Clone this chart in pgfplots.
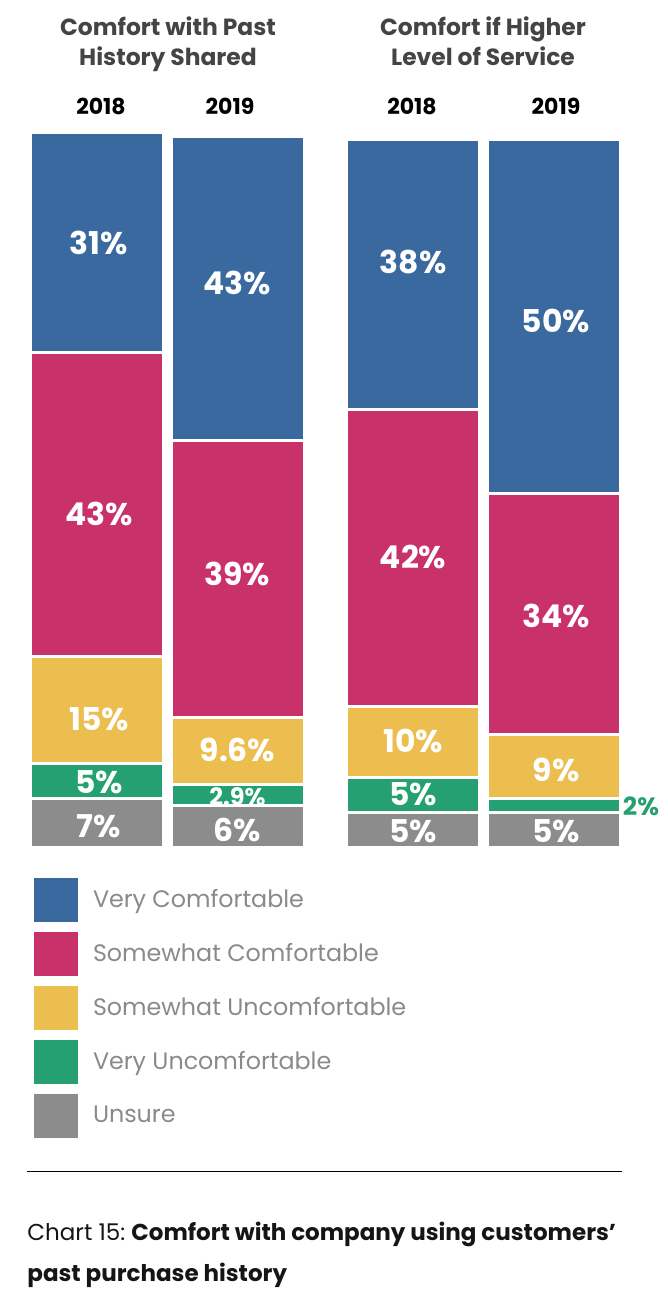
\documentclass[border=0pt]{standalone}
\usepackage{fontspec}
\setmainfont{Poppins}
\usepackage{pgfplots}
\pgfplotsset{compat=1.18}
\usepackage{pgfplotstable}
\definecolor{vcomf}{HTML}{3A69A0}
\definecolor{scomf}{HTML}{C9316B}
\definecolor{sunc}{HTML}{ECBE50}
\definecolor{vunc}{HTML}{25A073}
\definecolor{unsure}{HTML}{8C8C8C}
\definecolor{titlegray}{HTML}{444444}
\definecolor{leggray}{HTML}{8A8A8A}
\definecolor{capblack}{HTML}{151515}

\pgfplotstableread{
x unsure vunc sunc scomf vcomf
97 7 5 15 43 31
237.5 6 2.9 9.6 39 43
413 5 5 10 42 38
554 5 2 9 34 50
}\datatable

\pgfplotsset{frame/.style={at={(0,0)}, anchor=south west,
  scale only axis, width=334pt, height=646pt,
  xmin=0, xmax=668, ymin=-62.712, ymax=119.774,
  hide axis, clip=false}}

% label at x (axis units) and reference pixel row
\newcommand\lab[3]{\node[text=white, font=\bfseries\fontsize{15.7pt}{18pt}\selectfont] at (axis cs:#1,{(848-#2)/7.08}) {#3};}
\newcommand\yr[2]{\node[anchor=base, text=black, font=\bfseries\fontsize{11pt}{13pt}\selectfont] at (axis cs:#1,{(848-115)/7.08}) {#2};}
\newcommand\ttl[3]{\node[anchor=base, text=titlegray, font=\bfseries\fontsize{11.7pt}{14pt}\selectfont] at (axis cs:#1,{(848-#2)/7.08}) {#3};}

\begin{document}
\begin{tikzpicture}
\useasboundingbox (0,0) rectangle (334pt,646pt);
\begin{axis}[
  frame,
  ybar stacked, bar width=133,
  mybar/.style={fill=#1, draw=white, line width=1.5pt,
    legend image code/.code={\path[##1, draw=none] (0pt,-11pt) rectangle (22pt,11pt);}},
  reverse legend,
  legend style={at={(0.0509,0.3204)}, anchor=north west, draw=none, fill=none,
    inner sep=0pt, outer sep=0pt, row sep=5pt, column sep=7.5pt,
    font=\fontsize{11.9pt}{14pt}\selectfont, text=leggray,
    nodes={inner sep=0pt}},
  legend cell align=left,
]
\addplot[mybar=unsure] table[x=x, y=unsure] {\datatable};
\addlegendentry{Unsure}
\addplot[mybar=vunc] table[x=x, y=vunc] {\datatable};
\addlegendentry{Very Uncomfortable}
\addplot[mybar=sunc] table[x=x, y=sunc] {\datatable};
\addlegendentry{Somewhat Uncomfortable}
\addplot[mybar=scomf] table[x=x, y=scomf] {\datatable};
\addlegendentry{Somewhat Comfortable}
\addplot[mybar=vcomf] table[x=x, y=vcomf] {\datatable};
\addlegendentry{Very Comfortable}
\end{axis}
\begin{axis}[frame]
% bar labels
\lab{99}{243}{31\%}
\lab{99}{514}{43\%}
\lab{99}{719}{15\%}
\lab{99}{782}{5\%}
\lab{99}{826}{7\%}
\lab{237.5}{283}{43\%}
\lab{237.5}{574}{39\%}
\lab{237.5}{750}{9.6\%}
\node[text=white, font=\bfseries\fontsize{12pt}{14pt}\selectfont] at (axis cs:237.5,{(848-797)/7.08}) {2.9\%};
\lab{237.5}{830}{6\%}
\lab{413}{262}{38\%}
\lab{413}{557}{42\%}
\lab{413}{741}{10\%}
\lab{413}{794}{5\%}
\lab{413}{831}{5\%}
\lab{556}{321}{50\%}
\lab{556}{616}{34\%}
\lab{556}{770}{9\%}
\lab{556}{831}{5\%}
\node[text=vunc, font=\bfseries\fontsize{12.5pt}{14pt}\selectfont] at (axis cs:641,{(848-806)/7.08}) {2\%};
% titles
\ttl{168}{36}{Comfort with Past}
\ttl{168}{66}{History Shared}
\ttl{483}{36}{Comfort if Higher}
\ttl{483}{66}{Level of Service}
% years
\yr{101}{2018}
\yr{230}{2019}
\yr{412}{2018}
\yr{556}{2019}
% rule
\draw[line width=0.5pt, black] (axis cs:27,{(848-1172)/7.08}) -- (axis cs:622,{(848-1172)/7.08});
% caption
\node[anchor=base west, inner sep=0pt, text=capblack, font=\fontsize{11.5pt}{14pt}\selectfont] at (axis cs:27,{(848-1241)/7.08}) {Chart 15:\ \textbf{Comfort with company using customers’}};
\node[anchor=base west, inner sep=0pt, text=capblack, font=\fontsize{11.5pt}{14pt}\selectfont] at (axis cs:27,{(848-1281)/7.08}) {\textbf{past purchase history}};
\end{axis}
\end{tikzpicture}
\end{document}
